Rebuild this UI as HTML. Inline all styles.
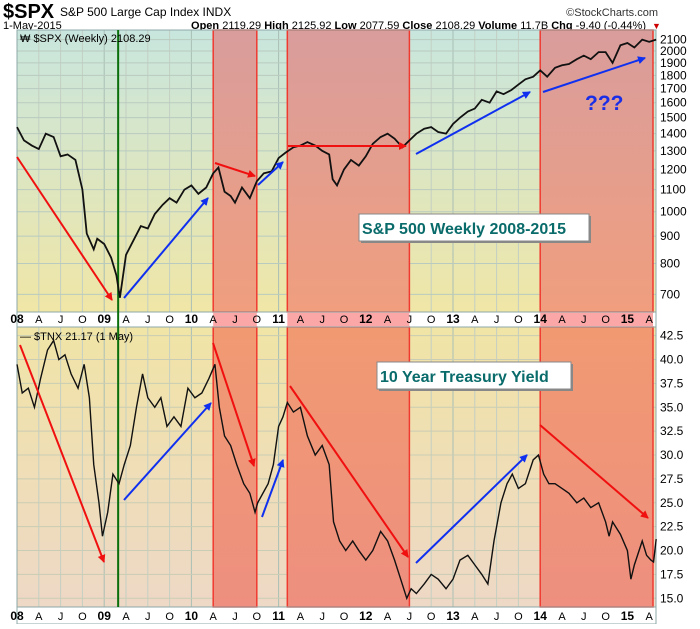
<!DOCTYPE html>
<html><head><meta charset="utf-8"><style>
body{margin:0;background:#fff;width:700px;height:624px;overflow:hidden;font-family:"Liberation Sans",sans-serif}
svg text{font-family:"Liberation Sans",sans-serif}
</style></head><body>
<svg id="c" width="700" height="624">
<defs>
<linearGradient id="gu" x1="0" y1="0" x2="0" y2="1"><stop offset="0" stop-color="#c8e6de"/><stop offset="1" stop-color="#f0e6a6"/></linearGradient>
<linearGradient id="gl" x1="0" y1="0" x2="0" y2="1"><stop offset="0" stop-color="#f0e4a6"/><stop offset="1" stop-color="#eed8c6"/></linearGradient>
<linearGradient id="ru" x1="0" y1="0" x2="0" y2="1"><stop offset="0" stop-color="#d99d9c"/><stop offset="1" stop-color="#f09e7e"/></linearGradient>
<linearGradient id="rl" x1="0" y1="0" x2="0" y2="1"><stop offset="0" stop-color="#f19a72"/><stop offset="1" stop-color="#ee8f7f"/></linearGradient>
<marker id="ar" markerWidth="8" markerHeight="8" refX="7" refY="4" orient="auto" markerUnits="userSpaceOnUse"><path d="M0,0 L8,4 L0,8 Z" fill="#f01010"/></marker>
<marker id="ab" markerWidth="8" markerHeight="8" refX="7" refY="4" orient="auto" markerUnits="userSpaceOnUse"><path d="M0,0 L8,4 L0,8 Z" fill="#1030f0"/></marker>
</defs>
<text x="3" y="18" font-size="20" font-weight="bold">$SPX</text>
<text x="60" y="16" font-size="12">S&amp;P 500 Large Cap Index  INDX</text>
<text x="658" y="16" font-size="11" text-anchor="end" fill="#333">©StockCharts.com</text>
<text x="3" y="29" font-size="11">1-May-2015</text>
<text x="646" y="29" font-size="11" text-anchor="end"><tspan font-weight="bold">Open</tspan> 2119.29 <tspan font-weight="bold">High</tspan> 2125.92 <tspan font-weight="bold">Low</tspan> 2077.59 <tspan font-weight="bold">Close</tspan> 2108.29 <tspan font-weight="bold">Volume</tspan> 11.7B <tspan font-weight="bold">Chg</tspan> -9.40 (-0.44%)</text>
<text x="652" y="29" font-size="9" fill="#c00">▼</text>
<rect x="17" y="30" width="639" height="282" fill="url(#gu)"/>
<rect x="17" y="327" width="639" height="280" fill="url(#gl)"/>
<g id="grid"></g>
<g id="regions"></g>
<g id="series"></g>
<g id="axes"></g>
<g id="ann"></g>
</svg>
<script>
const spxT=[2008.0,2008.08,2008.17,2008.25,2008.33,2008.42,2008.5,2008.58,2008.67,2008.75,2008.8,2008.88,2008.92,2009.0,2009.08,2009.14,2009.18,2009.25,2009.33,2009.42,2009.5,2009.58,2009.67,2009.75,2009.83,2009.92,2010.0,2010.08,2010.17,2010.25,2010.31,2010.38,2010.45,2010.5,2010.58,2010.67,2010.75,2010.83,2010.92,2011.0,2011.08,2011.17,2011.25,2011.33,2011.42,2011.5,2011.58,2011.62,2011.67,2011.75,2011.83,2011.92,2012.0,2012.08,2012.17,2012.25,2012.33,2012.42,2012.5,2012.58,2012.67,2012.75,2012.83,2012.92,2013.0,2013.08,2013.17,2013.25,2013.33,2013.42,2013.5,2013.58,2013.67,2013.75,2013.83,2013.92,2014.0,2014.08,2014.17,2014.25,2014.33,2014.42,2014.5,2014.58,2014.67,2014.75,2014.83,2014.92,2015.0,2015.08,2015.17,2015.25,2015.33];
const spxV=[1440,1360,1330,1310,1400,1380,1270,1280,1250,1100,910,850,890,870,820,760,690,830,880,940,930,990,1030,1060,1040,1100,1120,1080,1110,1180,1210,1090,1070,1040,1110,1060,1140,1180,1190,1260,1290,1320,1330,1350,1330,1300,1280,1150,1120,1200,1250,1220,1270,1340,1380,1400,1370,1320,1360,1400,1430,1440,1410,1400,1460,1500,1540,1560,1620,1600,1680,1660,1690,1730,1770,1790,1840,1790,1860,1880,1890,1930,1960,1930,1990,1990,1900,2050,2070,2030,2100,2080,2100];
const tnxT=[2008.0,2008.06,2008.13,2008.2,2008.27,2008.35,2008.42,2008.48,2008.55,2008.62,2008.7,2008.77,2008.83,2008.88,2008.94,2008.98,2009.04,2009.1,2009.17,2009.23,2009.3,2009.37,2009.44,2009.5,2009.58,2009.65,2009.72,2009.8,2009.88,2009.96,2010.04,2010.12,2010.2,2010.27,2010.32,2010.38,2010.45,2010.52,2010.6,2010.67,2010.73,2010.76,2010.82,2010.88,2010.94,2011.0,2011.05,2011.1,2011.17,2011.25,2011.33,2011.42,2011.5,2011.58,2011.63,2011.7,2011.77,2011.85,2011.92,2012.0,2012.08,2012.17,2012.25,2012.33,2012.4,2012.47,2012.52,2012.58,2012.67,2012.75,2012.83,2012.92,2013.0,2013.08,2013.17,2013.25,2013.33,2013.4,2013.47,2013.55,2013.62,2013.68,2013.75,2013.83,2013.92,2013.98,2014.04,2014.1,2014.17,2014.25,2014.33,2014.42,2014.5,2014.58,2014.67,2014.75,2014.79,2014.83,2014.92,2015.0,2015.04,2015.08,2015.17,2015.22,2015.27,2015.3,2015.33];
const tnxV=[39.5,36.5,37,35,38,41,42,40,40.5,38.5,37,39.5,36,29,25,21.5,24,28,27,29,31,35,38.5,36,35,36,33,34,33,37,36,36.5,38,39.5,35,32,31,29,27,26,24,25,26,27,29,33,34,35.5,34.5,35,32,30,31,29,23,21,20,21,20,19,20,22,21,19,17,15,16,15.5,16.5,17.5,17,16,17,19,19.5,18.5,17.5,16.5,21,25,27,28,26.5,27,29.5,30,28,27,27,26.5,26,25,25.5,24.5,25,23,21.5,23,21.7,20,17,18.5,21,19.5,19,18.8,21.2];
const spxTicks=[700,800,900,1000,1100,1200,1300,1400,1500,1600,1700,1800,1900,2000,2100];
const tnxTicks=[15,17.5,20,22.5,25,27.5,30,32.5,35,37.5,40,42.5];
const yearLabels=["08","09","10","11","12","13","14","15"];
const monthLabels=["A","J","O"];
const shadeStart=[2010.25,2011.1,2014.0];
const shadeEnd=[2010.75,2012.5,2015.33];
const NS="http://www.w3.org/2000/svg";
const X0=17,X1=656,UT=30,UB=312,LT=327,LB=607;
function xOf(t){return 17+(t-2008)*87.2;}
function yU(v){return 211.7-534*Math.log10(v/1000);}
function yL(v){return 598.3-(v-15)*9.55;}
function mk(tag,a,parent){const e=document.createElementNS(NS,tag);for(const k in a)e.setAttribute(k,a[k]);document.getElementById(parent).appendChild(e);return e;}
for(let y=2008;y<=2015;y++)for(let q=0;q<4;q++){const t=y+q*0.25;const x=xOf(t);if(x>X1)continue;
 const g=mk('line',{x1:x,x2:x,y1:UT,y2:LB,stroke:q==0?'#a9bfb5':'#c3cfc3','stroke-width':1},'grid');
 
 }
spxTicks.forEach(v=>{const l=mk('line',{x1:X0,x2:X1,y1:yU(v),y2:yU(v),stroke:'#b9cbbf','stroke-width':1},'grid');
 
 
 const tx=mk('text',{x:660,y:yU(v)+4,'font-size':12},'axes');tx.textContent=v;
 
 });
tnxTicks.forEach(v=>{const l=mk('line',{x1:X0,x2:X1,y1:yL(v),y2:yL(v),stroke:'#c9cdb4','stroke-width':1},'grid');
 
 
 const tx=mk('text',{x:660,y:yL(v)+4,'font-size':12},'axes');tx.textContent=v.toFixed(1);
 
 });
[[UB,LT],[LB,624]].forEach(([a,b])=>{const r=mk('rect',{x:X0,y:a,width:X1-X0,height:b-a,fill:'#fff',stroke:'#8fa8a8'},'regions');
 
 });
shadeStart.forEach((s,i)=>{const x=xOf(s),w=Math.min(xOf(shadeEnd[i]),X1-3)-x;
 const r1=mk('rect',{x:x,y:UT,width:w,height:UB-UT,fill:'url(#ru)',stroke:'#f03a30','stroke-width':1.5},'regions');
 
 
 const r2=mk('rect',{x:x,y:LT,width:w,height:LB-LT,fill:'url(#rl)',stroke:'#f03a30','stroke-width':1.5},'regions');
 
 
 const r3=mk('rect',{x:x,y:UB+0.5,width:w,height:LT-UB-1,fill:'#fba7a8'},'regions');
 
 });
[[UT,UB],[LT,LB]].forEach(([a,b])=>{const r=mk('rect',{x:X0,y:a,width:X1-X0,height:b-a,fill:'none',stroke:'#8fa8a8'},'regions');
 
 });
[323,620].forEach(yy=>{for(let i=0;i<yearLabels.length;i++){const y=2008+i;
 const t=mk('text',{x:xOf(y),y:yy,'font-size':12,'font-weight':'bold','text-anchor':'middle'},'axes');t.textContent=yearLabels[i];
 
 
 monthLabels.forEach((m,j)=>{const tt=y+(j+1)*0.25;if(xOf(tt)>X1)return;
  const e=mk('text',{x:xOf(tt),y:yy,'font-size':11,'text-anchor':'middle'},'axes');e.textContent=m;
  
  });}});
const gl=mk('line',{x1:xOf(2009.16),x2:xOf(2009.16),y1:UT,y2:LB,stroke:'#0a6e0a','stroke-width':2},'series');


const p1=mk('polyline',{points:spxT.map((t,i)=>xOf(t)+','+yU(spxV[i])).join(' '),fill:'none',stroke:'#111','stroke-width':1.8},'series');


const p2=mk('polyline',{points:tnxT.map((t,i)=>xOf(t)+','+yL(tnxV[i])).join(' '),fill:'none',stroke:'#111','stroke-width':1.4},'series');


const red=[[17,157,112,300],[215,163,255,176],[288,146,406,146],[20,345,104,562],[213,343,254,466],[290,386,408,557],[540,425,648,518]];
const blue=[[124,298,208,198],[258,185,283,162],[416,154,530,92],[543,92,645,58],[124,500,211,403],[262,517,283,460],[416,563,527,455]];
red.forEach(a=>{const l=mk('line',{x1:a[0],y1:a[1],x2:a[2],y2:a[3],stroke:'#f01010','stroke-width':2,'marker-end':'url(#ar)'},'ann');
 
 });
blue.forEach(a=>{const l=mk('line',{x1:a[0],y1:a[1],x2:a[2],y2:a[3],stroke:'#1030f0','stroke-width':2,'marker-end':'url(#ab)'},'ann');
 
 });
</script>
<svg width="700" height="624" style="position:absolute;left:0;top:0">
<text x="20" y="42" font-size="11" font-family="DejaVu Sans Mono,monospace">₩ $SPX (Weekly) 2108.29</text>
<text x="20" y="340" font-size="11" font-family="DejaVu Sans Mono,monospace">— $TNX 21.17 (1 May)</text>
<text x="585" y="110" font-size="21" font-weight="bold" fill="#1a2ee8">???</text>
<rect x="361" y="216" width="230" height="27" fill="#888"/>
<rect x="359" y="214" width="230" height="27" fill="#fff" stroke="#888"/>
<text x="362" y="234" font-size="16" font-weight="bold" fill="#0a6b6b">S&amp;P 500 Weekly 2008-2015</text>
<rect x="379" y="364" width="194" height="27" fill="#888"/>
<rect x="377" y="362" width="194" height="27" fill="#fff" stroke="#888"/>
<text x="380" y="382" font-size="16" font-weight="bold" fill="#0a6b6b">10 Year Treasury Yield</text>
</svg>
</body></html>
